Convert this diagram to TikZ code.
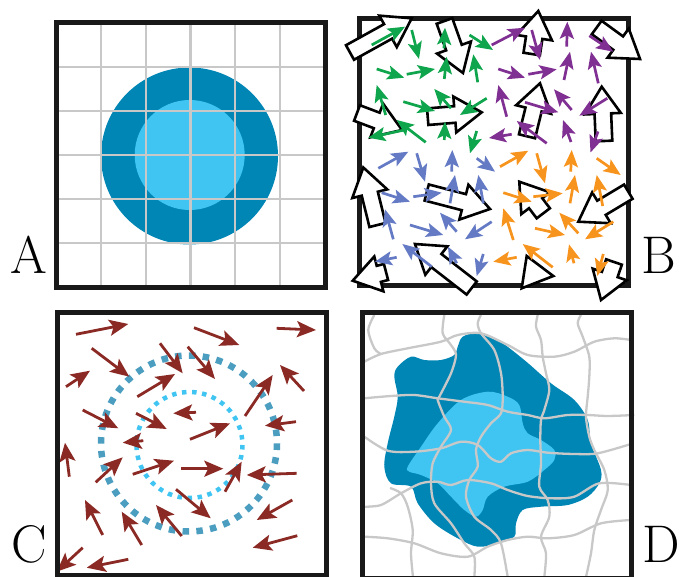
\documentclass[tikz,border=0pt]{standalone}
\usetikzlibrary{arrows.meta,calc}
\definecolor{dkblue}{RGB}{0,134,181}
\definecolor{ltblue}{RGB}{64,197,242}
\definecolor{dotblue}{RGB}{76,158,192}
\definecolor{gridgray}{RGB}{200,200,200}
\definecolor{vgreen}{RGB}{14,165,76}
\definecolor{vpurple}{RGB}{128,48,146}
\definecolor{vblue}{RGB}{100,122,196}
\definecolor{vorange}{RGB}{247,148,30}
\definecolor{vred}{RGB}{139,42,36}
\tikzset{box/.style={draw=black!90,line width=5pt},
  grd/.style={draw=gridgray,line width=2.3pt},
  lbl/.style={anchor=base,inner sep=0pt,font=\fontsize{53}{53}\selectfont},
  vec/.style={line width=2.7pt,-{Stealth[length=17pt,width=14pt,inset=3.5pt]}},
  cvec/.style={vred,line width=2.8pt,-{Stealth[length=19pt,width=16pt,inset=4pt]}}}

\begin{document}
\begin{tikzpicture}[x=1pt,y=-1pt]
\tikzstyle{hol}=[fill=white,draw=black,line width=2.6pt,line join=miter]
\useasboundingbox (0,0) rectangle (682,577);

% A
\fill[dkblue] (189.5,156) circle (88.5);
\fill[ltblue] (189.7,155) circle (55);
\foreach \k in {1,...,5}{
  \draw[grd] ({56+44.83*\k},22.5) -- ({56+44.83*\k},287.5);
  \draw[grd] (56,{22.5+44.17*\k}) -- (325,{22.5+44.17*\k});
}
\draw[box] (56,22.5) rectangle (325,287.5);
\node[lbl] (la) at (29,273) {A};

% B
\draw[box] (359.5,19) rectangle (628.5,285.5);
\foreach \xa/\ya/\xb/\yb in {350/52.5/411.7/18.3, 444.5/21/463/73, 531.7/54/538.3/11,
  596.7/27.5/640/59, 357/113/402/130, 427.7/116.7/481.7/112.3, 527/136.3/540/83.3,
  604/141/601.7/86.7, 377.5/225/363.3/167.5, 426.7/192.5/490/209, 471.7/288/415/244,
  386/272/352.7/280.7, 543.3/213.3/519.3/181.7, 628.3/191.7/578.3/221.7, 614/262/601/300}{
  \path (\xa,\ya) coordinate (t) (\xb,\yb) coordinate (h) ($(h)!27pt!(t)$) coordinate (c);
  \filldraw[hol] ($(t)!8.3pt!90:(h)$) -- ($(c)!8.3pt!90:(h)$) -- ($(c)!18pt!90:(h)$) -- (h)
    -- ($(c)!18pt!-90:(h)$) -- ($(c)!8.3pt!-90:(h)$) -- ($(t)!8.3pt!-90:(h)$) -- cycle;
}
\filldraw[hol] (526.7,256) -- (553.3,276) -- (521.7,288.3) -- cycle;
\foreach \xa/\ya/\xb/\yb in {371.7/45/405/26.7, 411.7/30/419/59, 444/48.3/445/27.7,
  469.5/35/493/50, 376.7/69/404.3/77.7, 406.7/74.3/435/69, 444.3/79/446.7/56.7,
  477.7/82.3/473.3/54.3, 385.7/115/376.7/85, 403.3/101.7/435/111, 451/108.3/434.3/89,
  486.7/98.3/460/115, 425.7/142.3/396.7/120, 404.3/130/368.3/137.7, 444.3/140/445/121.7,
  476.7/131/470/153.3}
  \draw[vec,vgreen] (\xa,\ya) -- (\xb,\yb);
\foreach \xa/\ya/\xb/\yb in {491.7/45/525/27.7, 531.7/30/540/60, 566.7/46.7/567.3/21.7,
  589.3/35.7/613.3/51.7, 498.3/69/525/77.7, 528.3/74.3/556.7/69.3, 564/80/570/51.7,
  598.3/83.3/591/51.7, 506.7/116.7/498.3/85, 525/102.3/558.3/112.3, 571.7/110/554/89.3,
  607.3/98.3/579.3/115.7, 511.7/134.3/489/138, 546.7/143.3/516.7/121, 571/142/563/120,
  598/131.5/590.5/152.5}
  \draw[vec,vpurple] (\xa,\ya) -- (\xb,\yb);
\foreach \xa/\ya/\xb/\yb in {378.3/168.3/408.3/151.7, 416.7/153.3/425/181.7,
  451.7/171.7/452.3/150, 476.7/158.3/495/171.7, 381.7/192.7/410/201.7,
  413.3/196.7/441.7/192.7, 450/203.3/455/175, 483.3/203.3/478.3/175,
  393.3/239.3/385/209.3, 410/225/443.3/235, 456.7/231.7/440/212.7,
  491.7/221.7/465/239.3, 396.7/257.3/375/261.7, 431.7/266.7/402.3/244,
  456.7/263.3/448/246.7, 483.3/254/476.7/276}
  \draw[vec,vblue] (\xa,\ya) -- (\xb,\yb);
\foreach \xa/\ya/\xb/\yb in {500/166.7/528.3/150.7, 536.7/153.3/545/183.3,
  570.7/171.7/571.7/150, 596.7/158.3/620.7/175, 503.3/192.7/531.7/201.7,
  533.3/196.7/562.7/193.3, 570/203.3/575/175, 602.7/206/596.7/175,
  513.3/240/503.3/208.3, 535/228.3/565/235, 578.3/233.3/559.3/212.7,
  613.3/221.7/585/239.3, 516.7/257.3/493.3/261.7, 552.7/267.3/522.7/244,
  574/263.3/569/244.3, 603.3/254/597.3/276}
  \draw[vec,vorange] (\xa,\ya) -- (\xb,\yb);
\node[lbl] (lb) at (658.5,273) {B};

% C
\draw[dotblue,line width=6.5pt,dash pattern=on 6.5pt off 7.32pt] (189,443.5) circle (88);
\draw[ltblue,line width=4.5pt,dash pattern=on 4.5pt off 5.59pt] (189.5,445) circle (53);
\foreach \xa/\ya/\xb/\yb in {76/334.3/128.3/324, 194/327.7/239.3/345, 276.7/328.3/316/330,
  91.7/348.3/129.3/376.7, 160/343.3/182.7/373.3, 187.7/346.7/215/379, 66/386.7/90/370.7,
  137.3/396.7/175/374, 245/416/272.7/375, 304/391/280/365, 82.7/410/118.3/428.3,
  196/412.3/173.3/413.3, 136/413.3/166.7/429, 296/421.7/265/425.7, 190/439.3/230/423.3,
  143.3/440.7/122.7/442.7, 69.3/476.7/65/442.7, 95.7/482.3/122.7/457.3,
  132.7/474.3/174/460.7, 181/468.7/223.3/468.7, 225/491.7/241.7/461.7,
  296.7/473.3/246.7/475, 102.7/535/85/500, 141.7/545/121.7/511.7, 176/489.3/210.7/518.3,
  181.7/536/156/505, 292.3/500/256.7/520, 297.3/535.7/252.7/547.7,
  82.7/547.7/56.7/571.7, 128.3/559.3/86.7/567.7}
  \draw[cvec] (\xa,\ya) -- (\xb,\yb);
\draw[box] (57.5,312.5) rectangle (326,575.5);
\node[lbl] (lc) at (29.7,562) {C};

% D
\fill[dkblue] plot[smooth cycle,tension=0.55] coordinates {(462.7,336.7) (477.7,333.3)
  (497.7,340) (524.3,360) (551,383.3) (574.3,400) (587.7,420) (591,443.3) (601,470)
  (599.3,483.3) (587.7,496.7) (567.7,505) (541,506.7) (522.7,510) (516,523.3)
  (514.3,536.7) (497.7,543.3) (477.7,546.7) (457.7,538.3) (434.3,523.3) (417.7,503.3)
  (411,486.7) (391,483.3) (384.3,466.7) (387.7,443.3) (394.3,416.7) (397.7,396.7)
  (394.3,376.7) (397.7,366.7) (411,356.7) (424.3,360) (441,360) (454.3,355) (457.7,346.7)};
\fill[ltblue] plot[smooth cycle,tension=0.55] coordinates {(407.7,466.7) (421,446.7)
  (437.7,423.3) (461,400) (487.7,391.7) (507.7,396.7) (519.3,405) (522.7,423.3)
  (527.7,433.3) (541,440) (554.3,450) (554.3,460) (544.3,470) (527.7,481.7) (504.3,486.7)
  (487.7,496.7) (482.7,510) (476,516.7) (464.3,510) (451,496.7) (437.7,483.3) (421,475)
  (409.3,471.7)};
\draw[grd] plot[smooth] coordinates {(364.3,361.7) (381,354) (407.7,348.3) (441,341.7)
  (457.7,335) (481,333.3) (507.7,345) (527.7,355) (554.3,356.7) (574.3,351.7)
  (594.3,341.7) (614.3,338.3) (631,340)};
\draw[grd] plot[smooth] coordinates {(364,398.3) (391,396) (414.3,395) (437.7,398.3)
  (464.3,401.7) (487.7,405) (507.7,411.7) (527.7,415) (544.3,418.3) (567.7,415)
  (587.7,415) (607.7,416) (634.3,415)};
\draw[grd] plot[smooth] coordinates {(364.3,436.7) (387.7,450.7) (414.3,451.7) (441,448.3)
  (461,441.7) (477.7,445) (491,458.3) (501,461.7) (511,453.3) (527.7,450) (547.7,452.7)
  (574.3,454) (597.7,453.3) (631,444)};
\draw[grd] plot[smooth] coordinates {(364.3,506.7) (381,505) (401,493.3) (421,483.3)
  (437.7,481.7) (451,485) (467.7,480) (491,483.3) (507.7,490) (527.7,496) (551,498.3)
  (574.3,496.7) (599.3,483.3) (631,485)};
\draw[grd] plot[smooth] coordinates {(364.3,536.7) (387.7,538.3) (414.3,543.3) (441,553.3)
  (467.7,556.7) (487.7,546.7) (507.7,540) (527.7,536.7) (547.7,538.3) (574.3,535)
  (601,523.3) (631,520)};
\draw[grd] plot[smooth] coordinates {(374.3,315) (368.3,330) (374.3,348.3) (381,354)};
\draw[grd] plot[smooth] coordinates {(444.3,315) (442.7,333.3) (451,345) (456,355)
  (451,373.3) (439.3,396.7) (437.7,400) (444.3,416.7) (451,430) (441,446.7)
  (432.7,463.3) (431,483.3) (434.3,503.3) (451,523.3) (464.3,543.3) (474.3,556.7)
  (474.3,577)};
\draw[grd] plot[smooth] coordinates {(481,315) (477.7,323.3) (481,333.3) (494.3,350)
  (501,373.3) (502.7,396.7) (501,413.3) (491,423.3) (481,436.7) (476,450) (477.7,466.7)
  (469.3,480) (466,496.7) (474.3,516.7) (491,530) (501,543.3) (507.7,577)};
\draw[grd] plot[smooth] coordinates {(537.7,315) (536,326.7) (541,340) (542.7,356.7)
  (546,373.3) (549.3,390) (544.3,410) (541,420) (540.3,440) (541,463.3) (539.3,486.7)
  (547.7,500) (549.3,516.7) (541,536.7) (546,553.3) (544.3,577)};
\draw[grd] plot[smooth] coordinates {(581,315) (577.7,323.3) (582.7,336.7) (589.3,356.7)
  (589.3,376.7) (587.7,396.7) (586,416.7) (589.3,436.7) (594.3,450) (604.3,470)
  (607.7,490) (601,510) (594.3,530) (591,553.3) (586,577)};
\draw[grd] plot[smooth] coordinates {(390,488) (401,493.3) (407.7,506.7) (412.7,530)
  (411,553.3) (413,577)};
\draw[box] (362,312.5) rectangle (631,578);
\node[lbl] (ld) at (661,562) {D};
\end{tikzpicture}
\end{document}
